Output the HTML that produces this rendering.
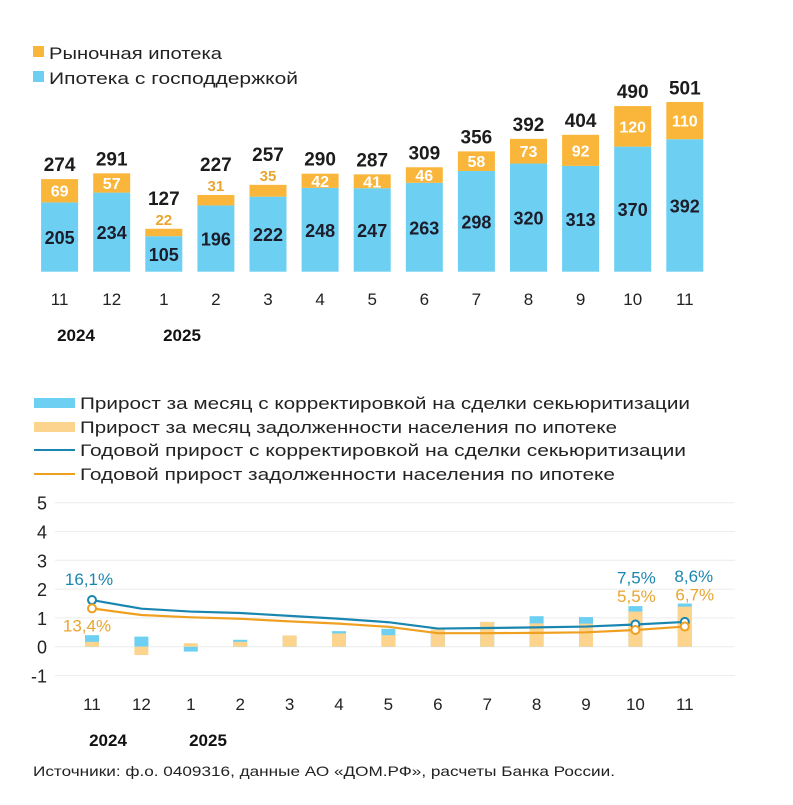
<!DOCTYPE html>
<html><head><meta charset="utf-8">
<style>
body{margin:0;background:#fff;width:793px;height:800px;overflow:hidden;font-family:"Liberation Sans",sans-serif;}
svg text{font-family:"Liberation Sans",sans-serif;}
</style></head>
<body>
<svg id="svg" width="793" height="800" xmlns="http://www.w3.org/2000/svg">
  <g>
    <rect x="33" y="46" width="11" height="11" fill="#f9b63a"/>
    <text x="49" y="59" font-size="17" fill="#222" textLength="173" lengthAdjust="spacingAndGlyphs">Рыночная ипотека</text>
    <rect x="33" y="71" width="11" height="11" fill="#6dd0f2"/>
    <text x="49" y="84" font-size="17" fill="#222" textLength="249" lengthAdjust="spacingAndGlyphs">Ипотека с господдержкой</text>
  </g>
  <g id="topchart"></g>
  <g>
    <rect x="34" y="398" width="41" height="10" fill="#6dd0f2"/>
    <text x="80" y="409" font-size="16.5" fill="#222" textLength="610" lengthAdjust="spacingAndGlyphs">Прирост за месяц с корректировкой на сделки секьюритизации</text>
    <rect x="34" y="422" width="41" height="10" fill="#fcd48e"/>
    <text x="80" y="433" font-size="16.5" fill="#222" textLength="537" lengthAdjust="spacingAndGlyphs">Прирост за месяц задолженности населения по ипотеке</text>
    <line x1="34" y1="450" x2="75" y2="450" stroke="#1a86b0" stroke-width="2"/>
    <text x="80" y="456" font-size="16.5" fill="#222" textLength="606" lengthAdjust="spacingAndGlyphs">Годовой прирост с корректировкой на сделки секьюритизации</text>
    <line x1="34" y1="474" x2="75" y2="474" stroke="#f0a020" stroke-width="2"/>
    <text x="80" y="480" font-size="16.5" fill="#222" textLength="535" lengthAdjust="spacingAndGlyphs">Годовой прирост задолженности населения по ипотеке</text>
  </g>
  <g id="botchart"></g>
  <text x="33" y="776" font-size="14" fill="#222" textLength="582" lengthAdjust="spacingAndGlyphs">Источники: ф.о. 0409316, данные АО «ДОМ.РФ», расчеты Банка России.</text>
</svg>
<script>
const months = ["11","12","1","2","3","4","5","6","7","8","9","10","11"];
const stateVals = [205,234,105,196,222,248,247,263,298,320,313,370,392];
const marketVals = [69,57,22,31,35,42,41,46,58,73,92,120,110];
const totals = [274,291,127,227,257,290,287,309,356,392,404,490,501];
const monthlyAdj = [0.40,0.35,-0.17,0.24,0.39,0.54,0.62,0.60,0.86,1.06,1.03,1.41,1.50];
const monthlyDebt = [0.17,-0.29,0.12,0.17,0.39,0.46,0.40,0.60,0.86,0.81,0.80,1.22,1.39];
const annualAdj = [1.62,1.32,1.22,1.17,1.07,0.97,0.85,0.63,0.65,0.67,0.70,0.77,0.86];
const annualDebt = [1.33,1.10,1.02,0.97,0.88,0.80,0.69,0.47,0.47,0.48,0.50,0.58,0.70];
const yTicks = [5,4,3,2,1,0,-1];
const NS="http://www.w3.org/2000/svg";
function mk(tag,attrs,parent,txt){const e=document.createElementNS(NS,tag);for(const k in attrs)e.setAttribute(k,attrs[k]);if(txt!==undefined)e.textContent=txt;parent.appendChild(e);return e;}

const topG=document.getElementById('topchart');
const tx=i=>59.6+i*52.1;
const ty=v=>271.7-v*0.338;
months.forEach((m,i)=>{
  const x=tx(i),w=37;
  const b=mk('rect',{x:x-w/2,y:ty(stateVals[i]),width:w,height:ty(0)-ty(stateVals[i]),fill:'#6dd0f2'},topG);
  
  
  const o=mk('rect',{x:x-w/2,y:ty(stateVals[i]+marketVals[i]),width:w,height:ty(stateVals[i])-ty(stateVals[i]+marketVals[i]),fill:'#f9b63a'},topG);
  
  
  const sv=mk('text',{x:x,y:(ty(stateVals[i])+ty(0))/2+7,'font-size':18,'font-weight':'bold','text-anchor':'middle',fill:'#1c1c2a'},topG,stateVals[i]);
  
  
  const small=marketVals[i]<40;
  const my=small?ty(stateVals[i]+marketVals[i])-4:(ty(stateVals[i])+ty(stateVals[i]+marketVals[i]))/2+6;
  const mv=mk('text',{x:x,y:my,'font-size':small?15:16,'font-weight':'bold','text-anchor':'middle',fill:small?'#e8a530':'#fff'},topG,marketVals[i]);
  
  
  const tt=mk('text',{x:x,y:ty(totals[i])-(small?24:8),'font-size':19,'font-weight':'bold','text-anchor':'middle',fill:'#1c1c1c'},topG,totals[i]);
  
  
  const ml=mk('text',{x:x,y:305,'font-size':17,'text-anchor':'middle',fill:'#222'},topG,m);
  
  
});
let y1=mk('text',{x:76,y:341,'font-size':17,'font-weight':'bold','text-anchor':'middle',fill:'#111'},topG,'2024');


let y2=mk('text',{x:182,y:341,'font-size':17,'font-weight':'bold','text-anchor':'middle',fill:'#111'},topG,'2025');



const botG=document.getElementById('botchart');
const bx=i=>92+i*49.4;
const by=v=>646.7-v*28.8;
yTicks.forEach(t=>{
  const g=mk('line',{x1:55,x2:735,y1:by(t),y2:by(t),stroke:'#ececec','stroke-width':1},botG);
  
  
  const l=mk('text',{x:47,y:by(t)+7,'font-size':18,'text-anchor':'end',fill:'#222'},botG,t);
  
  
});
months.forEach((m,i)=>{
  const x=bx(i),w=14;
  const a=monthlyAdj[i],d=monthlyDebt[i];
  const r1=mk('rect',{x:x-w/2,y:Math.min(by(a),by(0)),width:w,height:Math.abs(by(a)-by(0)),fill:'#6dd0f2'},botG);
  
  
  const r2=mk('rect',{x:x-w/2,y:Math.min(by(d),by(0)),width:w,height:Math.abs(by(d)-by(0)),fill:'#fcd48e'},botG);
  
  
  const ml=mk('text',{x:x,y:710,'font-size':17,'text-anchor':'middle',fill:'#222'},botG,m);
  
  
});
[[annualAdj,'#1a86b0','annual-adjusted-line'],[annualDebt,'#f0a020','annual-debt-line']].forEach(([arr,c,n])=>{
  const p=mk('polyline',{points:arr.map((v,i)=>bx(i)+','+by(v)).join(' '),fill:'none',stroke:c,'stroke-width':2.2},botG);
  
  
  [0,11,12].forEach(i=>{
    const ci=mk('circle',{cx:bx(i),cy:by(arr[i]),r:4,fill:'#fff',stroke:c,'stroke-width':2},botG);
    
    
  });
});
// [index, text, colour, y offset from point, series, x offset]
const lbls=[[0,'16,1%','#1a86b0',-15,0,-3],[0,'13,4%','#e8a530',23,1,-5],[11,'7,5%','#1a86b0',-41,0,1],[11,'5,5%','#e8a530',-28,1,1],[12,'8,6%','#1a86b0',-40,0,9],[12,'6,7%','#e8a530',-26,1,10]];
lbls.forEach(([i,t,c,dy,s,dx])=>{
  const v=s?annualDebt[i]:annualAdj[i];
  const e=mk('text',{x:bx(i)+dx,y:by(v)+dy,'font-size':17,'text-anchor':'middle',fill:c},botG,t);
  
  
});
let y3=mk('text',{x:108,y:746,'font-size':17,'font-weight':'bold','text-anchor':'middle',fill:'#111'},botG,'2024');


let y4=mk('text',{x:208,y:746,'font-size':17,'font-weight':'bold','text-anchor':'middle',fill:'#111'},botG,'2025');


</script>
</body></html>
